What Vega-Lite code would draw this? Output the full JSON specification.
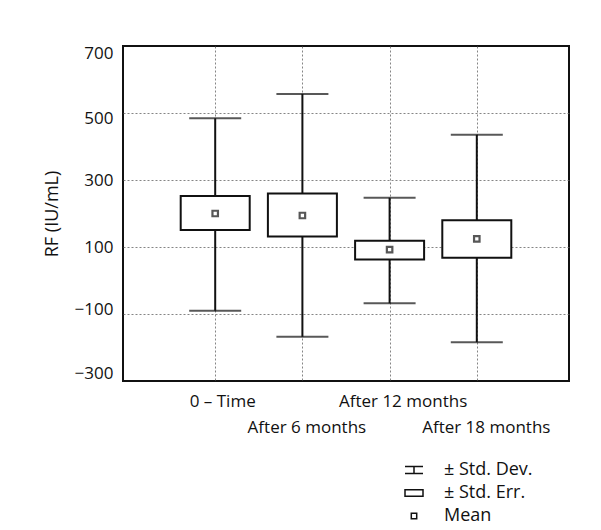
{
  "$schema": "https://vega.github.io/schema/vega-lite/v6.json",
  "autosize": {"type": "none"},
  "padding": {"left": 123, "top": 46, "right": 32, "bottom": 149},
  "width": 446,
  "height": 335,
  "background": "white",
  "config": {
    "view": {"stroke": "#111", "strokeWidth": 2},
    "font": "Open Sans",
    "axis": {
      "labelFont": "Open Sans", "labelFontSize": 17, "labelColor": "#111",
      "titleFont": "Open Sans", "titleFontSize": 18, "titleFontWeight": "normal", "titleColor": "#111",
      "domain": false, "ticks": false,
      "gridColor": "#666", "gridDash": [2, 2], "gridWidth": 0.8
    }
  },
  "datasets": {
    "stats": [
      {"group": "0 – Time", "pos": 1, "mean": 200, "seLo": 151, "seHi": 252, "sdLo": -90, "sdHi": 484},
      {"group": "After 6 months", "pos": 2, "mean": 194, "seLo": 131, "seHi": 260, "sdLo": -168, "sdHi": 557},
      {"group": "After 12 months", "pos": 3, "mean": 92, "seLo": 63, "seHi": 119, "sdLo": -68, "sdHi": 247},
      {"group": "After 18 months", "pos": 4, "mean": 124, "seLo": 68, "seHi": 180, "sdLo": -184, "sdHi": 435}
    ],
    "legendItems": [
      {"item": "± Std. Dev."},
      {"item": "± Std. Err."},
      {"item": "Mean"}
    ]
  },
  "layer": [
    {
      "data": {"name": "stats"},
      "mark": {"type": "rule", "color": "#111", "strokeWidth": 2},
      "encoding": {
        "x": {
          "field": "pos", "type": "quantitative",
          "scale": {"domain": [0, 5], "nice": false, "zero": false},
          "axis": {
            "title": null,
            "values": [1, 2, 3, 4],
            "labelExpr": "['', '0 – Time', 'After 6 months', 'After 12 months', 'After 18 months'][datum.value]",
            "labelOverlap": false,
            "labelFlush": false,
            "labelPadding": {"condition": {"test": "datum.value == 2 || datum.value == 4", "value": 38}, "value": 12},
            "labelOffset": {
              "condition": [
                {"test": "datum.value == 1", "value": 7},
                {"test": "datum.value == 2", "value": 4},
                {"test": "datum.value == 3", "value": 13}
              ],
              "value": 9
            }
          }
        },
        "y": {
          "field": "sdLo", "type": "quantitative",
          "scale": {"domain": [-300, 700], "nice": false, "zero": false},
          "axis": {
            "title": "RF (IU/mL)",
            "values": [-300, -100, 100, 300, 500, 700],
            "labelPadding": 10,
            "titlePadding": 13,
            "gridOpacity": {"condition": {"test": "datum.value == 700 || datum.value == -300", "value": 0}, "value": 1},
            "labelOffset": {
              "condition": [
                {"test": "datum.value == 700", "value": 7},
                {"test": "datum.value == 500", "value": 5},
                {"test": "datum.value == -100", "value": -5},
                {"test": "datum.value == -300", "value": -8}
              ],
              "value": 0
            }
          }
        },
        "y2": {"field": "sdHi"}
      }
    },
    {
      "data": {"name": "stats"},
      "mark": {"type": "tick", "orient": "horizontal", "size": 52, "thickness": 2, "color": "#111"},
      "encoding": {
        "x": {"field": "pos", "type": "quantitative"},
        "y": {"field": "sdHi", "type": "quantitative"}
      }
    },
    {
      "data": {"name": "stats"},
      "mark": {"type": "tick", "orient": "horizontal", "size": 52, "thickness": 2, "color": "#111"},
      "encoding": {
        "x": {"field": "pos", "type": "quantitative"},
        "y": {"field": "sdLo", "type": "quantitative"}
      }
    },
    {
      "data": {"name": "stats"},
      "mark": {"type": "bar", "width": 69, "fill": "white", "stroke": "#111", "strokeWidth": 2},
      "encoding": {
        "x": {"field": "pos", "type": "quantitative"},
        "y": {"field": "seLo", "type": "quantitative"},
        "y2": {"field": "seHi"}
      }
    },
    {
      "data": {"name": "stats"},
      "mark": {"type": "point", "shape": "square", "size": 30, "filled": true, "fill": "white", "stroke": "#111", "strokeWidth": 2.2},
      "encoding": {
        "x": {"field": "pos", "type": "quantitative"},
        "y": {"field": "mean", "type": "quantitative"}
      }
    },
    {
      "data": {"name": "legendItems"},
      "mark": {"type": "point", "opacity": 0},
      "encoding": {
        "shape": {
          "field": "item", "type": "nominal",
          "sort": ["± Std. Dev.", "± Std. Err.", "Mean"],
          "scale": {
            "domain": ["± Std. Dev.", "± Std. Err.", "Mean"],
            "range": [
              "M-1,-0.4H1M0,-0.4V0.4M-1,0.4H1",
              "M-1,-0.35H1V0.35H-1Z",
              "M-0.3,-0.3H0.3V0.3H-0.3Z"
            ]
          },
          "legend": {
            "title": null,
            "orient": "none",
            "legendX": 281,
            "legendY": 414,
            "padding": 0,
            "symbolSize": 324,
            "symbolStrokeWidth": 1.5,
            "symbolStrokeColor": "#111",
            "symbolFillColor": "white",
            "symbolOpacity": 1,
            "labelFont": "Open Sans",
            "labelFontSize": 18,
            "labelColor": "#111",
            "labelOffset": 20,
            "rowPadding": 4,
            "encode": {
              "symbols": {"update": {"opacity": {"value": 1}, "stroke": {"value": "#111"}, "fill": {"value": "white"}}}
            }
          }
        }
      }
    }
  ]
}
